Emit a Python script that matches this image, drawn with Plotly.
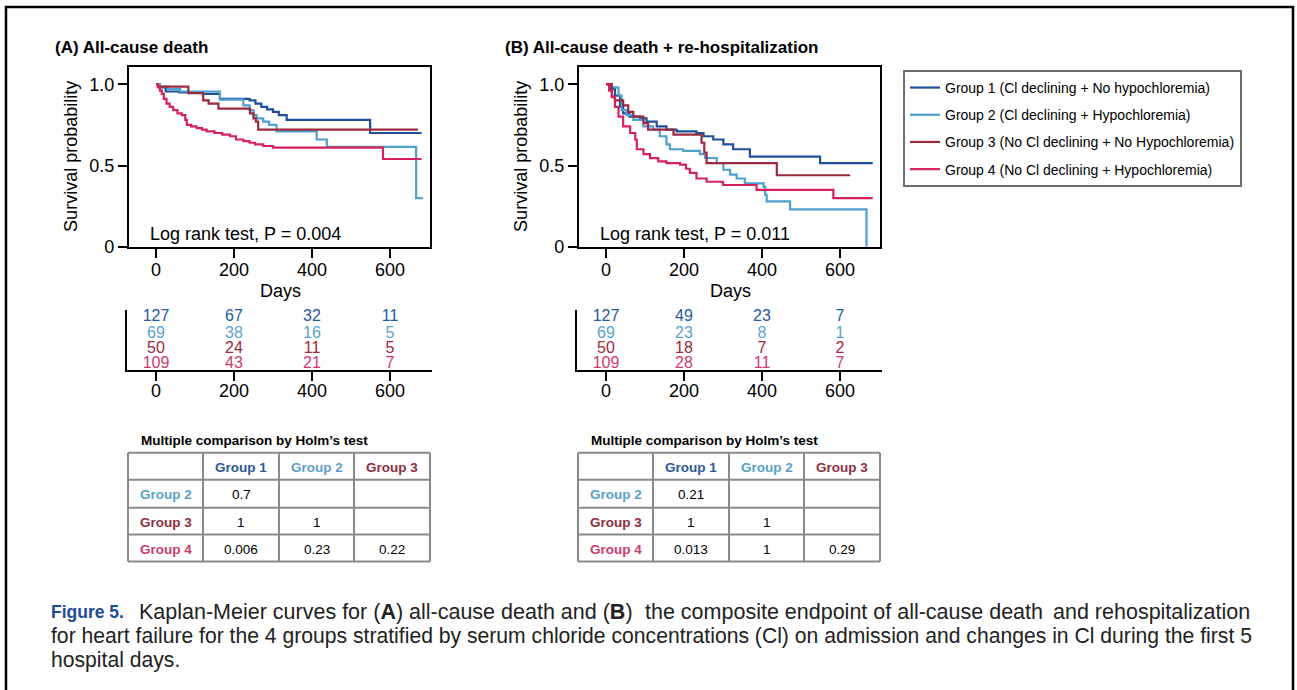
import plotly.graph_objects as go

W, H = 1297, 690
# vertical scale correction observed in the rendered screenshot
H_EFF = 680.5
FONT = "Liberation Sans, Arial, Helvetica, sans-serif"


def px(x):
    return x / W


def py(y):
    return 1 - y / H_EFF


# ---------------- data ----------------
group_names = [
    "Group 1 (Cl declining + No hypochloremia)",
    "Group 2 (Cl declining + Hypochloremia)",
    "Group 3 (No Cl declining + No Hypochloremia)",
    "Group 4 (No Cl declining + Hypochloremia)",
]
group_colors = ["#1f4f9a", "#4f9fcf", "#9b2a3c", "#d6225c"]
risk_colors = ["#2559a0", "#5aa3cf", "#9b2a3c", "#d03a6a"]
hdr_colors = ["#2b579a", "#5b9fc8", "#8f2d3d", "#c83c6c"]

# Panel A: all-cause death (days, survival probability)
a_g1_days = [0, 10, 25, 60, 120, 164, 240, 255, 270, 285, 300, 315, 335, 549, 681]
a_g1_surv = [1.0, 0.98, 0.955, 0.95, 0.94, 0.91, 0.90, 0.88, 0.86, 0.845, 0.83, 0.81, 0.78, 0.70, 0.70]
a_g2_days = [0, 10, 30, 62, 164, 224, 240, 250, 258, 275, 290, 309, 412, 438, 667, 684]
a_g2_surv = [1.0, 0.985, 0.97, 0.955, 0.905, 0.87, 0.84, 0.81, 0.79, 0.77, 0.75, 0.71, 0.66, 0.615, 0.30, 0.30]
a_g3_days = [0, 5, 83, 121, 135, 160, 241, 250, 256, 262, 672]
a_g3_surv = [1.0, 0.985, 0.945, 0.90, 0.88, 0.85, 0.82, 0.79, 0.77, 0.72, 0.72]
a_g4_days = [0, 5, 10, 15, 20, 27, 35, 44, 55, 66, 75, 79, 90, 104, 118, 130, 150, 170, 190, 205,
             224, 240, 254, 275, 300, 582, 681]
a_g4_surv = [1.0, 0.98, 0.96, 0.94, 0.91, 0.88, 0.86, 0.84, 0.82, 0.81, 0.78, 0.75, 0.74, 0.73, 0.72,
             0.71, 0.70, 0.69, 0.68, 0.66, 0.65, 0.64, 0.63, 0.62, 0.61, 0.54, 0.54]

# Panel B: all-cause death + re-hospitalization
b_g1_days = [0, 10, 23, 36, 44, 60, 87, 104, 130, 155, 181, 232, 250, 275, 301, 326, 369, 549, 684]
b_g1_surv = [1.0, 0.97, 0.93, 0.86, 0.82, 0.80, 0.79, 0.77, 0.74, 0.72, 0.71, 0.70, 0.68, 0.66, 0.63,
             0.60, 0.555, 0.515, 0.515]
b_g2_days = [0, 15, 32, 40, 53, 70, 96, 121, 138, 155, 164, 198, 241, 254, 284, 301, 318, 335, 356,
             404, 408, 412, 472, 668]
b_g2_surv = [1.0, 0.98, 0.93, 0.84, 0.81, 0.78, 0.74, 0.72, 0.68, 0.63, 0.60, 0.59, 0.57, 0.546,
             0.515, 0.474, 0.444, 0.42, 0.39, 0.37, 0.32, 0.28, 0.23, 0.0]
b_g3_days = [0, 15, 23, 44, 57, 70, 96, 108, 173, 245, 252, 258, 438, 626]
b_g3_surv = [1.0, 0.925, 0.90, 0.87, 0.83, 0.80, 0.76, 0.72, 0.69, 0.64, 0.58, 0.515, 0.44, 0.44]
b_g4_days = [0, 8, 15, 23, 32, 44, 62, 75, 79, 96, 113, 134, 155, 190, 205, 215, 232, 258, 300, 386,
             583, 684]
b_g4_surv = [1.0, 0.96, 0.92, 0.86, 0.80, 0.74, 0.70, 0.66, 0.60, 0.57, 0.545, 0.525, 0.515, 0.505,
             0.48, 0.455, 0.42, 0.40, 0.38, 0.35, 0.30, 0.30]

risk_days = [0, 200, 400, 600]
a_risk = [[127, 67, 32, 11], [69, 38, 16, 5], [50, 24, 11, 5], [109, 43, 21, 7]]
b_risk = [[127, 49, 23, 7], [69, 23, 8, 1], [50, 18, 7, 2], [109, 28, 11, 7]]

table_cols = ["Group 1", "Group 2", "Group 3"]
table_rows = ["Group 2", "Group 3", "Group 4"]
holm_a = [["0.7", "", ""], ["1", "1", ""], ["0.006", "0.23", "0.22"]]
holm_b = [["0.21", "", ""], ["1", "1", ""], ["0.013", "1", "0.29"]]

x_ticks = [0, 200, 400, 600]
y_ticks = [0, 0.5, 1.0]
y_ticktext = ["0", "0.5", "1.0"]

caption_label = "Figure 5."
caption_line1 = ["Kaplan-Meier curves for (<b>A</b>) all-cause death and (<b>B</b>)",
                 "the composite endpoint of all-cause death",
                 "and rehospitalization"]
caption_line2 = ("for heart failure for the 4 groups stratified by serum chloride concentrations (Cl) "
                 "on admission and changes in Cl during the first 5")
caption_line3 = "hospital days."

# ---------------- figure ----------------
fig = go.Figure()

panels = [
    dict(xa="x", ya="y", dx=0, data=[(a_g1_days, a_g1_surv), (a_g2_days, a_g2_surv),
                                     (a_g3_days, a_g3_surv), (a_g4_days, a_g4_surv)],
         risk=a_risk, rxa="x3", rya="y3", holm=holm_a,
         title="<b>(A) All-cause death</b>", p="Log rank test, P = 0.004"),
    dict(xa="x2", ya="y2", dx=450, data=[(b_g1_days, b_g1_surv), (b_g2_days, b_g2_surv),
                                         (b_g3_days, b_g3_surv), (b_g4_days, b_g4_surv)],
         risk=b_risk, rxa="x4", rya="y4", holm=holm_b,
         title="<b>(B) All-cause death + re-hospitalization</b>", p="Log rank test, P = 0.011"),
]

RISK_UNIT = 15.5  # pixels per row unit in the at-risk strip
risk_rows_y = [3.4, 2.3, 1.32, 0.36]

for pi, pan in enumerate(panels):
    for gi, (d, s) in enumerate(pan["data"]):
        fig.add_trace(go.Scatter(
            x=d, y=s, mode="lines", line=dict(color=group_colors[gi], width=2.2, shape="hv"),
            name=group_names[gi], legendgroup=f"g{gi}", showlegend=(pi == 0),
            xaxis=pan["xa"], yaxis=pan["ya"], hoverinfo="skip"))
    for gi, row in enumerate(pan["risk"]):
        fig.add_trace(go.Scatter(
            x=risk_days, y=[risk_rows_y[gi]] * 4, mode="text", text=[str(v) for v in row],
            textfont=dict(color=risk_colors[gi], size=16, family=FONT), cliponaxis=False,
            xaxis=pan["rxa"], yaxis=pan["rya"], showlegend=False, hoverinfo="skip"))

axis_common = dict(showgrid=False, zeroline=False, linecolor="black", linewidth=2.2,
                   ticks="outside", ticklen=9, tickwidth=2, tickcolor="black",
                   tickfont=dict(size=18, family=FONT, color="black"))

km_xrange = [(129 - 156) / 0.39, (430 - 156) / 0.39]
risk_xrange = [(127 - 156) / 0.39, (432 - 156) / 0.39]

layout_axes = {}
for pi, pan in enumerate(panels):
    dx = pan["dx"]
    xn = "xaxis" if pi == 0 else "xaxis2"
    yn = "yaxis" if pi == 0 else "yaxis2"
    layout_axes[xn] = dict(axis_common, domain=[px(129 + dx), px(430 + dx)], range=km_xrange,
                           tickvals=x_ticks, showline=True, mirror=True,
                           ticklabelstandoff=-4, anchor=pan["ya"])
    layout_axes[yn] = dict(axis_common, domain=[py(247), py(67)], range=[0, 1.106],
                           tickvals=y_ticks, ticktext=y_ticktext, showline=True, mirror=True,
                           anchor=pan["xa"])
    rxn = "xaxis3" if pi == 0 else "xaxis4"
    ryn = "yaxis3" if pi == 0 else "yaxis4"
    layout_axes[rxn] = dict(axis_common, domain=[px(127 + dx), px(432 + dx)], range=risk_xrange,
                            tickvals=x_ticks, showline=True, ticklabelstandoff=-5,
                            anchor=pan["rya"])
    layout_axes[ryn] = dict(showgrid=False, zeroline=False, showline=True, linecolor="black",
                            linewidth=2.2, ticks="", showticklabels=False,
                            domain=[py(370), py(310)], range=[0, 60 / RISK_UNIT],
                            anchor=pan["rxa"])

annotations = []
shapes = []


def ann(text, x, y, size, color="black", xanchor="center", angle=0, family=FONT):
    return dict(text=text, x=px(x), y=py(y), xref="paper", yref="paper", showarrow=False,
                xanchor=xanchor, yanchor="middle", textangle=angle,
                font=dict(size=size, family=family, color=color))


for pi, pan in enumerate(panels):
    dx = pan["dx"]
    annotations.append(ann(pan["title"], 53 + dx, 48, 17, xanchor="left"))
    annotations.append(ann("Survival probability", 71 + dx, 157, 18, angle=-90))
    annotations.append(ann("Days", 280 + dx, 291, 18))
    annotations.append(ann(pan["p"], 148 + dx, 234, 18, xanchor="left"))
    # Holm table
    annotations.append(ann("<b>Multiple comparison by Holm\u2019s test</b>", 139 + dx, 441, 13.5,
                           xanchor="left"))
    col_edges = [128 + dx, 203 + dx, 279 + dx, 354 + dx, 430 + dx]
    row_edges = [453, 480, 508, 535, 562]
    for ce in col_edges:
        shapes.append(dict(type="line", xref="paper", yref="paper", x0=px(ce), x1=px(ce),
                           y0=py(row_edges[0]), y1=py(row_edges[-1]),
                           line=dict(color="#8a8a8a", width=2)))
    for re_ in row_edges:
        shapes.append(dict(type="line", xref="paper", yref="paper", x0=px(col_edges[0]),
                           x1=px(col_edges[-1]), y0=py(re_), y1=py(re_),
                           line=dict(color="#8a8a8a", width=2)))
    ccent = [(col_edges[i] + col_edges[i + 1]) / 2 for i in range(4)]
    rcent = [(row_edges[i] + row_edges[i + 1]) / 2 + 1 for i in range(4)]
    for ci, name in enumerate(table_cols):
        annotations.append(ann(f"<b>{name}</b>", ccent[ci + 1], rcent[0], 13.5, hdr_colors[ci]))
    for ri, name in enumerate(table_rows):
        annotations.append(ann(f"<b>{name}</b>", ccent[0], rcent[ri + 1], 13.5, hdr_colors[ri + 1]))
        for ci in range(3):
            val = pan["holm"][ri][ci]
            if val:
                annotations.append(ann(val, ccent[ci + 1], rcent[ri + 1], 13.5))

# caption (justified first line approximated by three pieces)
CAP1 = 21.5
CAPC = "#222222"
annotations.append(ann(f"<b>{caption_label}</b>", 49, 612, 17.5, "#1c4b9b", xanchor="left"))
annotations.append(ann(caption_line1[0], 137, 612, CAP1, CAPC, xanchor="left"))
annotations.append(ann(caption_line1[1], 643, 612, CAP1, CAPC, xanchor="left"))
annotations.append(ann(caption_line1[2], 1252, 612, CAP1, CAPC, xanchor="right"))
annotations.append(ann(caption_line2, 49, 636, 21.15, CAPC, xanchor="left"))
annotations.append(ann(caption_line3, 49, 660, 21.15, CAPC, xanchor="left"))

# outer frame
shapes.append(dict(type="rect", xref="paper", yref="paper", x0=px(6), x1=px(1293), y0=-0.1,
                   y1=py(7), line=dict(color="black", width=2.5)))

fig.update_layout(
    autosize=True, margin=dict(l=0, r=0, t=0, b=0, pad=0),
    paper_bgcolor="white", plot_bgcolor="white",
    font=dict(family=FONT, color="black"),
    hovermode=False,
    showlegend=True,
    legend=dict(x=px(903), y=py(70), xanchor="left", yanchor="top",
                bordercolor="#6e6e6e", borderwidth=2, bgcolor="white",
                font=dict(size=14, family=FONT, color="black"),
                traceorder="grouped", tracegroupgap=6),
    annotations=annotations, shapes=shapes,
    **layout_axes,
)

post = (
    "document.documentElement.style.margin='0';"
    "document.documentElement.style.padding='0';"
    "document.documentElement.style.overflow='hidden';"
    "document.body.style.margin='0';"
    "document.body.style.padding='0';"
    "document.body.style.overflow='hidden';"
    "var gd=document.getElementById('{plot_id}');"
    "gd.style.width='100vw';gd.style.height='100vh';"
    "Plotly.Plots.resize(gd);"
)

fig.write_html("out.html", config={"displayModeBar": False, "responsive": True},
               default_width="100vw", default_height="100vh", post_script=post)
